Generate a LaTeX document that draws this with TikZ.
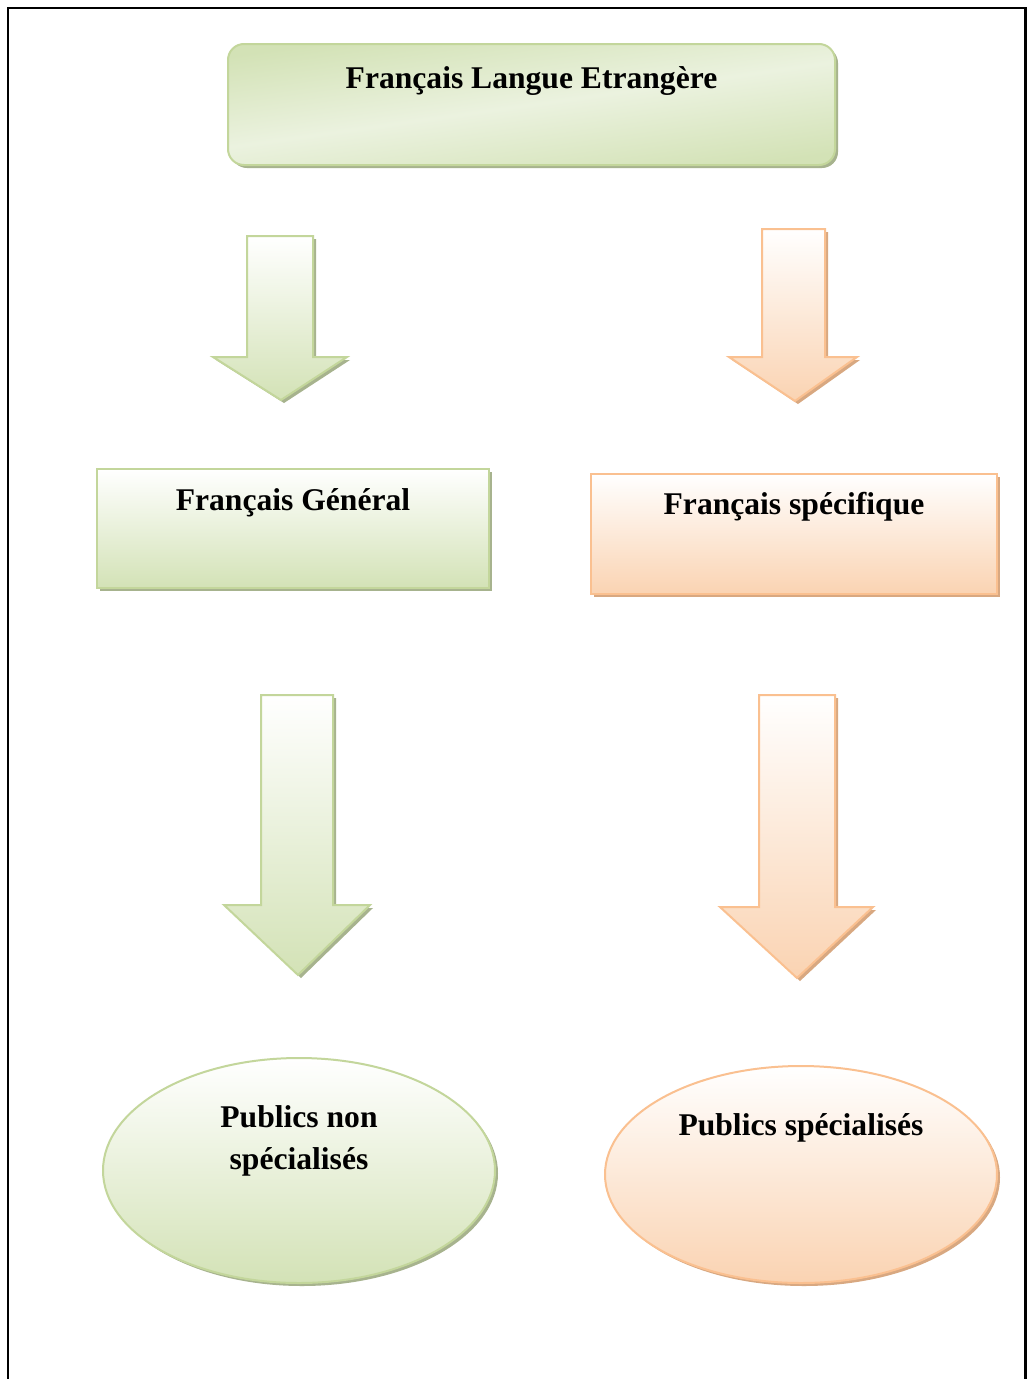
\documentclass[tikz,border=0pt]{standalone}
\usepackage{fontspec}
\setmainfont{Liberation Serif}
\usetikzlibrary{shapes.geometric,shadows}

\definecolor{grnline}{HTML}{C3D69B}
\definecolor{grnfill}{HTML}{D3E2B6}
\definecolor{grnmid}{HTML}{EBF2DF}
\definecolor{grnshade}{HTML}{A7B38E}
\definecolor{orgline}{HTML}{FAC090}
\definecolor{orgfill}{HTML}{FAD3B2}
\definecolor{orgshade}{HTML}{D8A881}

\tikzset{
  gshadow/.style={drop shadow={shadow xshift=3pt,shadow yshift=-3pt,fill=grnshade,opacity=1}},
  oshadow/.style={drop shadow={shadow xshift=3pt,shadow yshift=-3pt,fill=orgshade,opacity=1}},
  gshape/.style={draw=grnline,line width=2pt,top color=white,bottom color=grnfill,gshadow},
  oshape/.style={draw=orgline,line width=2pt,top color=white,bottom color=orgfill,oshadow},
  blockarrow/.style={line width=2pt,line join=miter},
  lbl/.style={font=\fontsize{31.6}{37}\selectfont\bfseries,inner sep=0pt,anchor=base},
}

\begin{document}
\begin{tikzpicture}[x=1pt,y=-1pt]
\useasboundingbox (0,0) rectangle (1027,1379);
\fill[white] (0,0) rectangle (1027,1379);

% page frame, open at the bottom
\draw[line width=2.5pt] (8,1379) -- (8,8) -- (1025.5,8) -- (1025.5,1379);

% title box
\node (fle) [draw=grnline,line width=2pt,rounded corners=16pt,
  top color=grnfill,bottom color=grnfill,middle color=grnmid,
  shading angle=8,gshadow,
  minimum width=607pt,minimum height=121pt] at (531.5,104.5) {};
\node (flet) [lbl] at (531.5,88) {Français Langue Etrangère};

% first-level arrows
\draw[blockarrow,gshape] (247,236) -- (313,236) -- (313,357) -- (347,357)
  -- (281,400) -- (213,357) -- (247,357) -- cycle;
\draw[blockarrow,oshape] (762,229) -- (825,229) -- (825,357) -- (857,357)
  -- (795,401) -- (729,357) -- (762,357) -- cycle;

% second level boxes
\node (fg) [gshape,minimum width=392pt,minimum height=119pt] at (293,528.5) {};
\node (fgt) [lbl] at (293,510) {Français Général};
\node (fs) [oshape,minimum width=406pt,minimum height=120pt] at (794,534) {};
\node (fst) [lbl] at (794,514) {Français spécifique};

% second-level arrows
\draw[blockarrow,gshape] (261,695) -- (333,695) -- (333,905) -- (370,905)
  -- (298,975) -- (224,905) -- (261,905) -- cycle;
\draw[blockarrow,oshape] (759,695) -- (835,695) -- (835,907) -- (873,907)
  -- (797,978) -- (720,907) -- (759,907) -- cycle;

% audiences
\node (pns) [ellipse,gshape,minimum width=392pt,minimum height=225pt,inner sep=0pt] at (299,1170.5) {};
\node (pnst1) [lbl] at (299,1127) {Publics non};
\node (pnst2) [lbl] at (299,1169) {spécialisés};
\node (ps) [ellipse,oshape,minimum width=392pt,minimum height=217pt,inner sep=0pt] at (801,1174.5) {};
\node (pst) [lbl] at (801,1135) {Publics spécialisés};
\end{tikzpicture}
\end{document}
